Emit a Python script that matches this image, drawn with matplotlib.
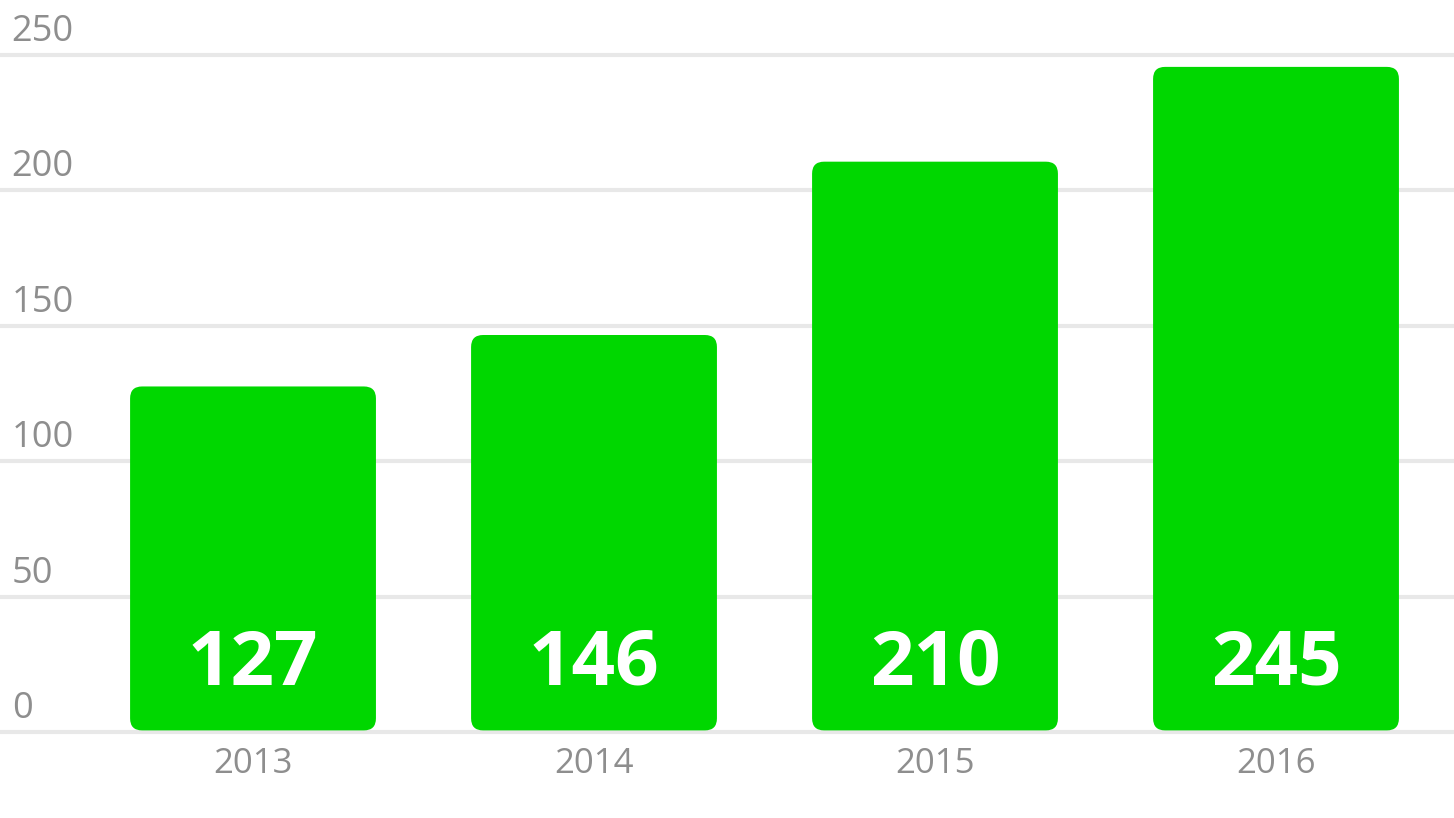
import matplotlib
matplotlib.use('Agg')
import matplotlib.pyplot as plt
import matplotlib.transforms as mtransforms
from matplotlib.patches import FancyBboxPatch

# Chart data
years = ['2013', '2014', '2015', '2016']
values = [127, 146, 210, 245]
y_ticks = [0, 50, 100, 150, 200, 250]

bar_color = '#00d700'
grid_color = '#e8e8e8'
label_color = '#8e8e8e'

plt.rcParams['font.family'] = ['Open Sans', 'DejaVu Sans']

fig = plt.figure(figsize=(14.54, 8.18), dpi=100)
ax = fig.add_axes([0, 0.1051, 1, 0.8277])

x = list(range(len(years)))
bars = ax.bar(x, values, width=0.721, color=bar_color, zorder=2)

ax.set_xlim(-0.742, 3.522)
ax.set_ylim(0, 250)

# swap the square bars for rounded ones
px_x = 1 / 341.0
px_y = 250 / 677.0
radius = 12
for b in bars:
    b.set_visible(False)
    rb = FancyBboxPatch((b.get_x(), b.get_y() + 0.6), b.get_width(), b.get_height(),
                        boxstyle=f'round,pad=0,rounding_size={radius * px_x}',
                        mutation_aspect=px_y / px_x,
                        facecolor=bar_color, edgecolor='none', zorder=2)
    ax.add_patch(rb)

# gridlines
for t in y_ticks:
    ax.axhline(t, color=grid_color, linewidth=3, zorder=1, clip_on=False)

# y labels sit on top of the gridlines, left aligned
trans = mtransforms.blended_transform_factory(ax.transAxes, ax.transData)
trans = mtransforms.offset_copy(trans, fig=fig, x=0, y=14, units='dots')
for t in y_ticks:
    ax.text(0.008, t, str(t), transform=trans, ha='left', va='baseline',
            fontsize=26, color=label_color)

# value labels inside bars
for xi, v in zip(x, values):
    ax.text(xi, 17.4, str(v), ha='center', va='baseline', fontsize=55,
            fontweight='bold', color='white', zorder=3)

ax.set_xticks(x)
ax.set_xticklabels(years, fontsize=25, color=label_color)
ax.tick_params(axis='x', length=0, pad=11)
ax.set_yticks([])
for s in ax.spines.values():
    s.set_visible(False)
ax.patch.set_alpha(0)

fig.savefig('out.png', dpi=100, facecolor='white')
